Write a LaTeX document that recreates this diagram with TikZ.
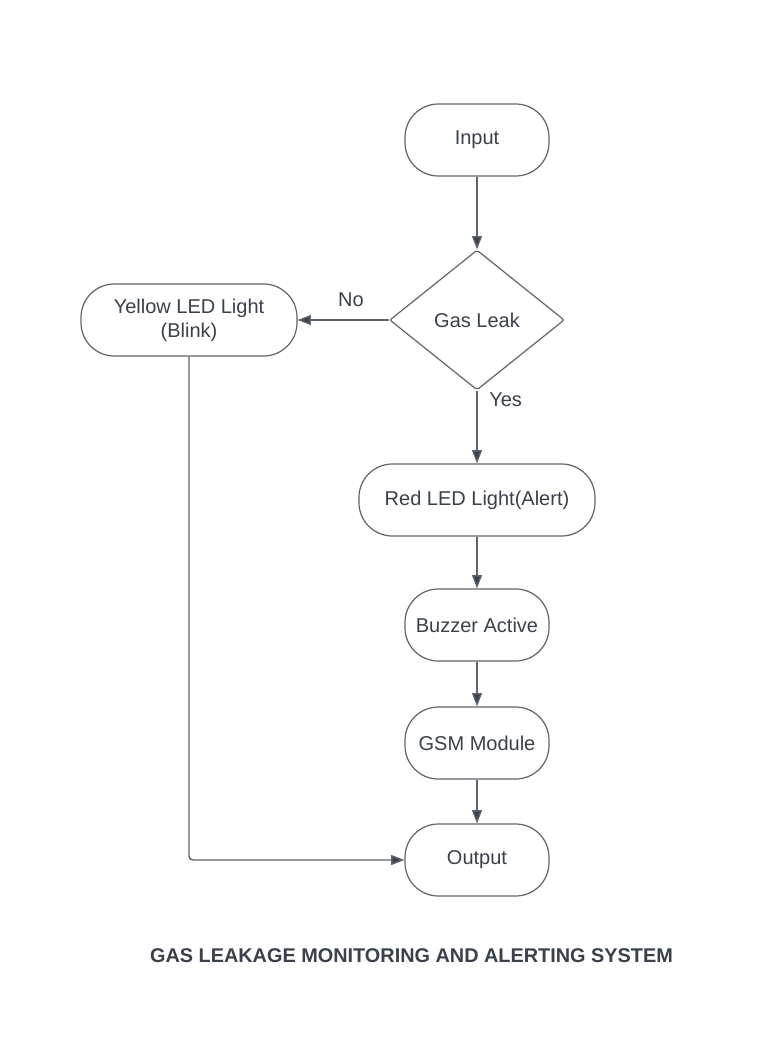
\documentclass[tikz,border=0pt]{standalone}
\usepackage{fontspec}
\setmainfont{Liberation Sans}
\usetikzlibrary{shapes.geometric,arrows.meta}
\definecolor{txt}{HTML}{3A414A}
\definecolor{ln}{HTML}{5F646B}
\begin{document}
\begin{tikzpicture}[x=0.75pt,y=-0.75pt,
  term/.style={draw=ln,line width=0.9pt,rounded corners=25pt,fill=white,text=txt,
    minimum width=108pt,minimum height=54pt,align=center,inner sep=0pt,
    font=\fontsize{15}{18}\selectfont},
  dec/.style={draw=ln,line width=0.9pt,diamond,fill=white,text=txt,
    minimum width=131pt,minimum height=105pt,inner sep=0pt,rounded corners=1.5pt,
    font=\fontsize{15}{18}\selectfont},
  conn/.style={draw=ln,line width=1.1pt,-{Triangle[length=10pt,width=7.5pt,fill=txt]}},
  lbl/.style={text=txt,font=\fontsize{15}{18}\selectfont,inner sep=0pt}]
\useasboundingbox[fill=white] (0,0) rectangle (784,1045);
\node[term] (in) at (477,140) {Input};
\node[dec] (gas) at (477,320) {Gas Leak};
\node[term,minimum width=162pt] (yel) at (189,320) {Yellow LED Light\\(Blink)};
\node[term,minimum width=177pt] (red) at (477,500) {Red LED Light(Alert)};
\node[term] (buz) at (477,625) {Buzzer Active};
\node[term] (gsm) at (477,743) {GSM Module};
\node[term] (out) at (477,860) {Output};
\draw[conn] (in) -- (gas);
\draw[conn] (gas) -- (yel);
\draw[conn] (gas) -- (red);
\draw[conn] (red) -- (buz);
\draw[conn] (buz) -- (gsm);
\draw[conn] (gsm) -- (out);
\draw[conn,rounded corners=3pt] (yel.south) |- (out.west);
\node[lbl] (no) at (351,300) {No};
\node[lbl,anchor=west] (yes) at (489,400) {Yes};
\node[text=txt,inner sep=0pt,font=\fontsize{14.9}{17}\selectfont\bfseries] (title) at (411.5,956) {GAS LEAKAGE MONITORING AND ALERTING SYSTEM};
\end{tikzpicture}
\end{document}
